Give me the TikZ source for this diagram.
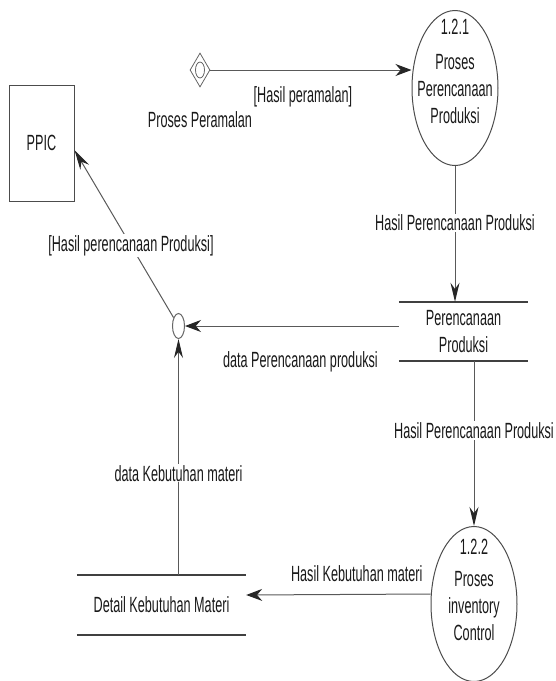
\documentclass[tikz,border=0pt]{standalone}
\usepackage{fontspec}
\setmainfont{Liberation Sans}[FakeStretch=0.575]
\usetikzlibrary{arrows.meta,positioning,shapes.geometric}

\tikzset{
  teks/.style={font=\fontsize{22}{27}\selectfont, text=black!90, inner sep=1pt},
  aliran/.style={teks, fill=white},
  proses/.style={ellipse, draw=black!70, line width=1pt, minimum width=86pt, minimum height=155pt, inner sep=0pt},
  simpan/.style={teks, align=center, inner sep=0pt},
  garissimpan/.style={draw=black!75, line width=1.6pt},
  garis/.style={draw=black!65, line width=1pt},
  panahH/.style={garis, -{Stealth[length=16pt,width=12pt,color=black!85]}},
  panahV/.style={garis, -{Stealth[length=19pt,width=9pt,color=black!85]}},
  panahD/.style={garis, -{Stealth[length=20pt,width=10pt,color=black!85]}},
}

\begin{document}
\begin{tikzpicture}[x=1pt,y=-1pt]
  \useasboundingbox (0,0) rectangle (555,681);

  % Entitas PPIC
  \node[teks, draw=black!70, line width=1pt, minimum width=65pt, minimum height=116pt] (ppic) at (41.5,143) {PPIC};
  \coordinate (ppicmasuk) at ([yshift=-7pt]ppic.east);

  % Proses Peramalan (penghubung)
  \node[diamond, draw=black!60, line width=0.8pt, fill=white, minimum width=20pt, minimum height=34pt, inner sep=0pt] (peramalan) at (200,70) {};
  \draw[black!60, line width=0.8pt] (peramalan.center) ellipse [x radius=4.5pt, y radius=8pt];
  \node[teks] (namaperamalan) at (200,120) {Proses Peramalan};

  % Proses 1.2.1
  \node[proses] (p121) at (455,88) {};
  \node[teks, align=center] (tekstp121) at ([yshift=16.5pt]p121.center) {1.2.1\\[8pt]Proses\\Perencanaan\\Produksi};

  % Data store Perencanaan Produksi
  \node[simpan, minimum width=129pt, minimum height=59pt] (perencanaan) at (463.5,331.5) {Perencanaan\\Produksi};
  \draw[garissimpan] (perencanaan.north west) -- (perencanaan.north east)
                     (perencanaan.south west) -- (perencanaan.south east);

  % Titik gabung
  \node[ellipse, draw=black!60, line width=1pt, fill=white, minimum width=12pt, minimum height=25pt, inner sep=0pt] (gabung) at (178.5,326) {};

  % Proses 1.2.2
  \node[proses] (p122) at (474,604) {};
  \node[teks, align=center] (tekstp122) at ([yshift=14pt]p122.center) {1.2.2\\[5pt]Proses\\inventory\\Control};

  % Data store Detail Kebutuhan Materi
  \node[simpan, minimum width=169pt, minimum height=60pt] (detail) at (161.5,605) {Detail Kebutuhan Materi};
  \draw[garissimpan] (detail.north west) -- (detail.north east)
                     (detail.south west) -- (detail.south east);

  % Aliran data
  \draw[panahH] (peramalan.east) -- (p121.west |- peramalan.east)
    node[teks, pos=0.46, below=15pt] {[Hasil peramalan]};
  \draw[panahV] (p121.south) -- (p121.south |- perencanaan.north)
    node[aliran, pos=0.42] {Hasil Perencanaan Produksi};
  \draw[panahH] (perencanaan.west |- gabung.east) -- (gabung.east)
    node[teks, pos=0.46, below=24pt] {data Perencanaan produksi};
  \draw[panahD] (gabung) -- (ppicmasuk)
    node[aliran, pos=0.43] {[Hasil perencanaan Produksi]};
  \draw[panahV] (detail.north -| gabung.south) -- (gabung.south)
    node[aliran, pos=0.43] {data Kebutuhan materi};
  \draw[panahV] (perencanaan.south -| p122.north) -- (p122.north)
    node[aliran, pos=0.42] {Hasil Perencanaan Produksi};
  \draw[panahH] ([yshift=10pt]p122.west) -- ([yshift=10pt]detail.east)
    node[teks, pos=0.4, above=11pt] {Hasil Kebutuhan materi};
\end{tikzpicture}
\end{document}
